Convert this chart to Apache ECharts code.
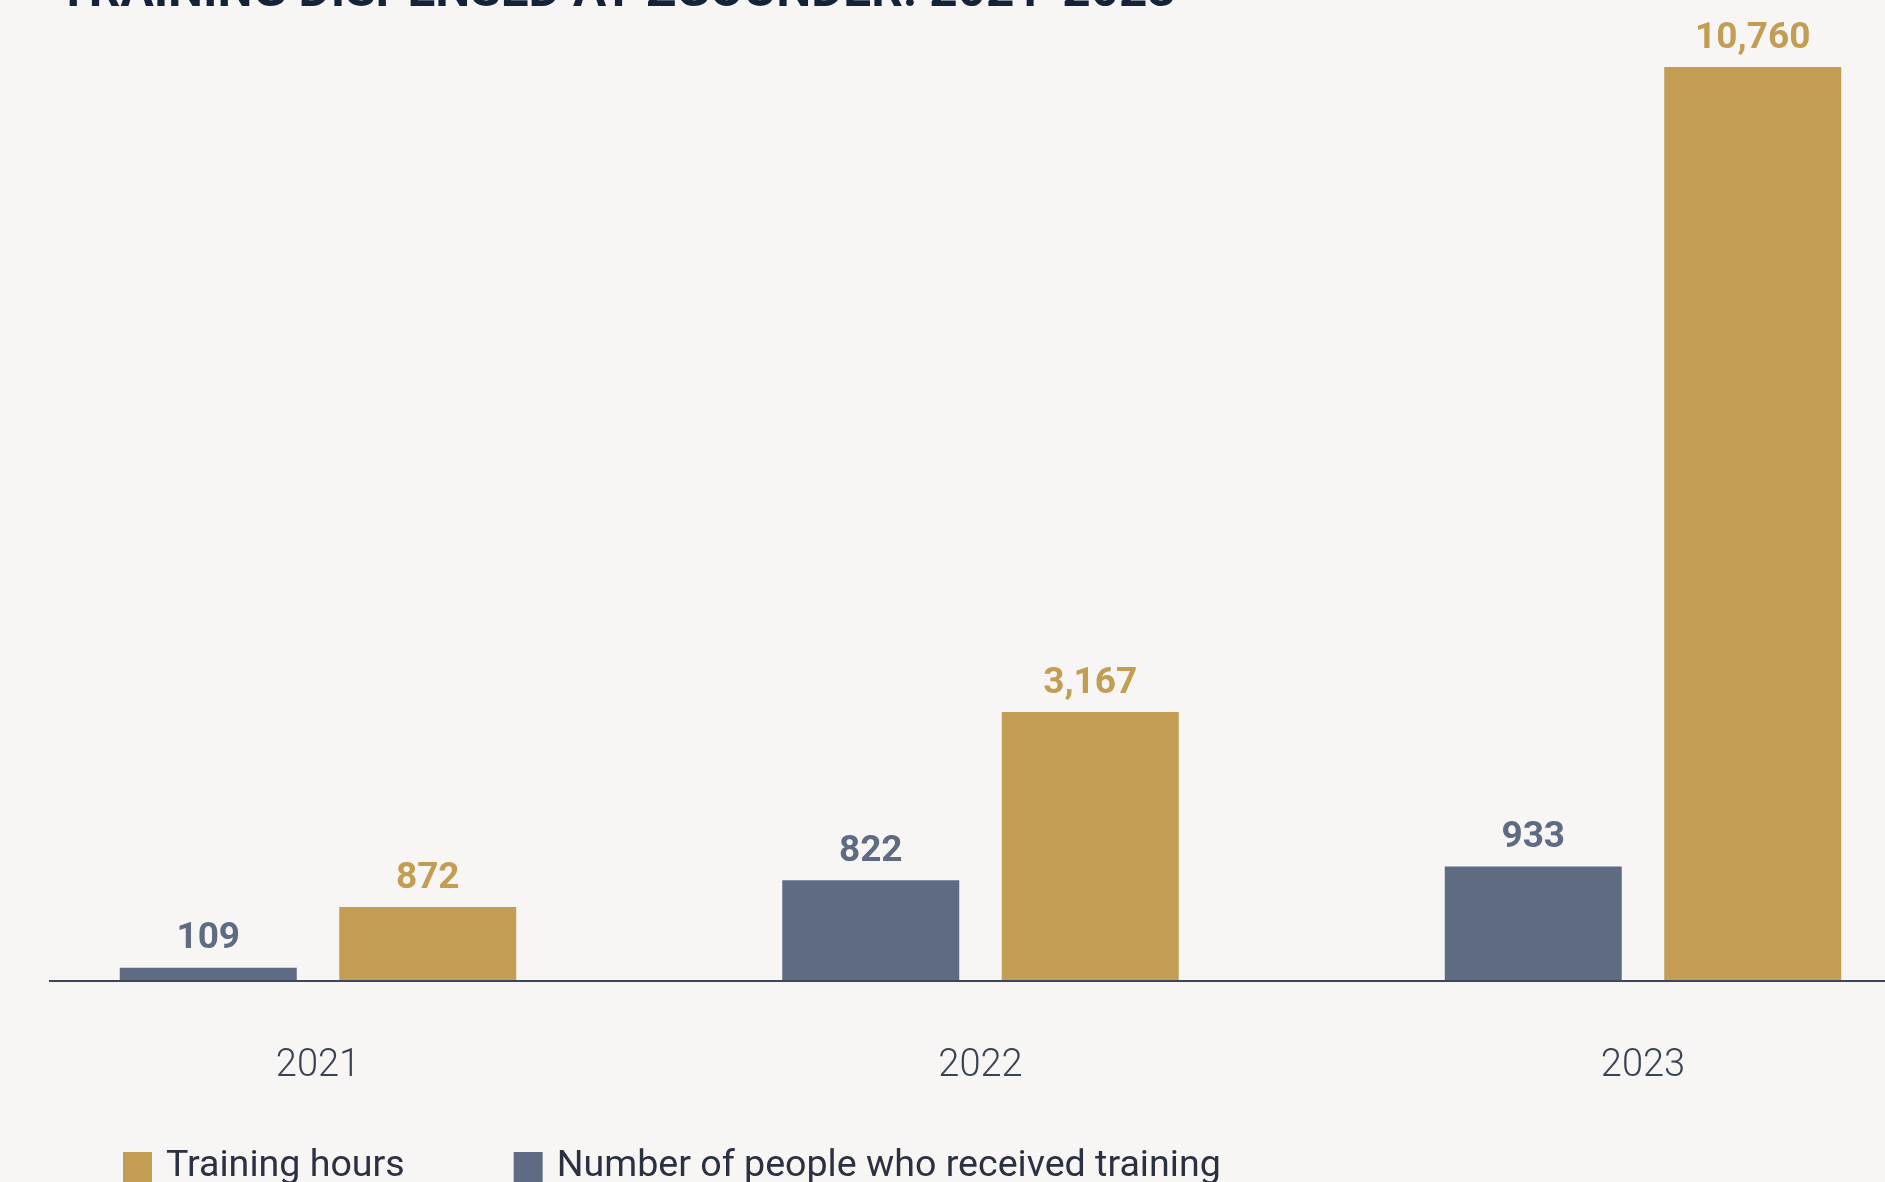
<!DOCTYPE html>
<html>
<head>
<meta charset="utf-8">
<title>Training dispensed at Zgounder: 2021-2023</title>
<script src="https://cdn.jsdelivr.net/npm/echarts@6/dist/echarts.min.js"></script>
<style>
  html, body { margin: 0; padding: 0; background: #f7f6f4; }
  #chart { width: 1885px; height: 1182px; }
</style>
</head>
<body>
<div id="chart"></div>
<script>
// Yearly training figures
const years = ['2021', '2022', '2023'];
const peopleTrained = [109, 822, 933];
const trainingHours = [872, 3167, 10760];

const GOLD = '#c29d53';
const SLATE = '#5f6b83';
const INK = '#15233a';

const fmt = v => Number(v).toLocaleString('en-US');

const chart = echarts.init(document.getElementById('chart'), null, { renderer: 'canvas' });

const valueLabel = color => ({
  show: true,
  position: 'top',
  distance: 10,
  formatter: p => fmt(p.value),
  fontFamily: 'Roboto',
  fontWeight: 'bold',
  fontSize: 37,
  color: color
});

chart.setOption({
  animation: false,
  backgroundColor: '#f7f6f4',
  title: {
    text: 'TRAINING DISPENSED AT ZGOUNDER: 2021-2023',
    left: 58,
    top: -31,
    padding: 0,
    textStyle: { fontFamily: 'Roboto', fontWeight: 'bold', fontSize: 49.5, color: INK }
  },
  legend: {
    data: ['Training hours', 'Number of people who received training'],
    left: 123,
    top: 1148,
    padding: 0,
    icon: 'rect',
    itemWidth: 29,
    itemHeight: 30,
    itemGap: 109,
    selectedMode: false,
    textStyle: { fontFamily: 'Roboto', fontSize: 37.6, color: '#2b3141', padding: [0, 0, 0, 9] }
  },
  // year centres sit on the grid edges and middle (boundaryGap off)
  grid: { left: 318, right: 242, top: 0, bottom: 201, containLabel: false },
  xAxis: {
    type: 'category',
    data: years,
    boundaryGap: false,
    axisLine: { show: false },
    axisTick: { show: false },
    axisLabel: { margin: 66, fontFamily: 'Roboto', fontWeight: 300, fontSize: 38, color: '#3a4254' }
  },
  yAxis: [
    { type: 'value', min: 0, max: 8000, show: false, splitLine: { show: false } },
    { type: 'value', min: 0, max: 11550, show: false, splitLine: { show: false } }
  ],
  series: [
    {
      name: 'Number of people who received training',
      type: 'bar',
      yAxisIndex: 0,
      data: peopleTrained,
      barWidth: 177,
      barGap: '24%',
      itemStyle: { color: SLATE },
      label: valueLabel(SLATE)
    },
    {
      name: 'Training hours',
      type: 'bar',
      yAxisIndex: 1,
      data: trainingHours,
      barWidth: 177,
      barGap: '24%',
      itemStyle: { color: GOLD },
      label: valueLabel(GOLD)
    }
  ]
});

// Baseline rule across the plot, placed at the value axis zero
const baseY = chart.convertToPixel({ yAxisIndex: 0 }, 0);
chart.setOption({
  graphic: [{
    type: 'line',
    z: 10,
    shape: { x1: 49, y1: baseY, x2: 1885, y2: baseY },
    style: { stroke: '#3c4658', lineWidth: 2 }
  }]
});
</script>
</body>
</html>
